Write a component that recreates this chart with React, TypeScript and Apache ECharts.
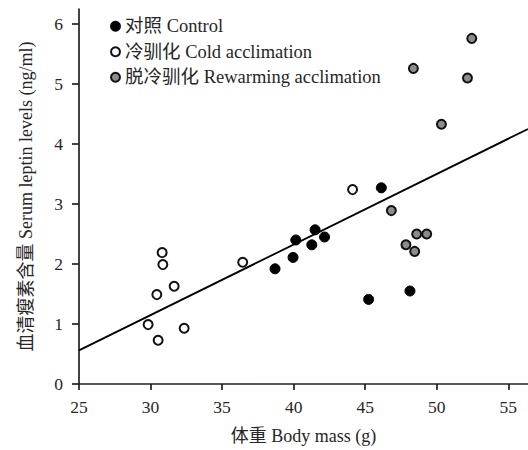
import React, { useEffect, useRef } from "react";
import * as echarts from "echarts";

const controlData: [number, number][] = [
  [38.7, 1.92], [39.96, 2.11], [40.15, 2.4], [41.27, 2.32], [41.5, 2.57],
  [42.16, 2.45], [46.13, 3.27], [45.24, 1.41], [48.13, 1.55],
];
const coldData: [number, number][] = [
  [30.81, 2.19], [30.86, 1.99], [31.65, 1.63], [30.44, 1.49], [36.44, 2.03],
  [44.12, 3.24], [29.83, 0.99], [30.53, 0.73], [32.35, 0.93],
];
const rewarmData: [number, number][] = [
  [52.45, 5.76], [48.37, 5.26], [52.15, 5.1], [50.33, 4.33], [46.83, 2.89],
  [48.6, 2.5], [49.3, 2.5], [47.85, 2.32], [48.46, 2.21],
];
const regressionLine: [number, number][] = [[25, 0.56], [56.38, 4.25]];
const xTicks = [25, 30, 35, 40, 45, 50, 55];
const yTicks = [0, 1, 2, 3, 4, 5, 6];
const seriesNames = ["对照 Control", "冷驯化 Cold acclimation", "脱冷驯化 Rewarming acclimation"];

const FONT = "'Liberation Serif', 'Times New Roman', 'Noto Sans CJK SC', serif";
const TXT = "#262626";

export default function App() {
  const ref = useRef<HTMLDivElement>(null);
  useEffect(() => {
    if (!ref.current) return;
    const chart = echarts.init(ref.current, undefined, { renderer: "svg" });
    const axisLine = { show: true, onZero: false, lineStyle: { color: "#222", width: 1.7 } };
    chart.setOption({
      animation: false,
      backgroundColor: "#fff",
      textStyle: { fontFamily: FONT },
      grid: { left: 79, right: 0, top: 9, bottom: 62, containLabel: false },
      legend: {
        orient: "vertical",
        left: 105,
        top: 12,
        itemWidth: 9,
        itemHeight: 9,
        itemGap: 7,
        icon: "circle",
        data: seriesNames,
        textStyle: { fontFamily: FONT, fontSize: 18.5, color: TXT },
      },
      xAxis: {
        type: "value",
        min: 25,
        max: 56.38,
        interval: 5,
        name: "体重 Body mass (g)",
        nameLocation: "middle",
        nameGap: 43,
        nameTextStyle: { fontFamily: FONT, fontSize: 18, color: TXT },
        axisLine,
        axisTick: { show: true, length: 6, inside: false, customValues: xTicks, lineStyle: { color: "#222", width: 1.7 } },
        axisLabel: { customValues: xTicks, fontFamily: FONT, fontSize: 17.5, color: TXT, margin: 14 },
        splitLine: { show: false },
      },
      yAxis: {
        type: "value",
        min: 0,
        max: 6.25,
        interval: 1,
        name: "血清瘦素含量 Serum leptin levels (ng/ml)",
        nameLocation: "middle",
        nameGap: 44,
        nameRotate: 90,
        nameTextStyle: { fontFamily: FONT, fontSize: 18, color: TXT },
        axisLine,
        axisTick: { show: true, length: 7, inside: false, customValues: yTicks, lineStyle: { color: "#222", width: 1.7 } },
        axisLabel: { customValues: yTicks, fontFamily: FONT, fontSize: 17.5, color: TXT, margin: 16 },
        splitLine: { show: false },
      },
      series: [
        {
          name: seriesNames[0],
          type: "scatter",
          data: controlData,
          symbol: "circle",
          symbolSize: 10,
          itemStyle: { color: "#000", borderColor: "#000", borderWidth: 1, opacity: 1 },
          z: 3,
        },
        {
          name: seriesNames[1],
          type: "scatter",
          data: coldData,
          symbol: "circle",
          symbolSize: 9,
          itemStyle: { color: "#fff", borderColor: "#111", borderWidth: 2, opacity: 1 },
          z: 3,
        },
        {
          name: seriesNames[2],
          type: "scatter",
          data: rewarmData,
          symbol: "circle",
          symbolSize: 9,
          itemStyle: { color: "#8c8c8c", borderColor: "#111", borderWidth: 2, opacity: 1 },
          z: 3,
        },
        {
          name: "regression",
          type: "line",
          data: regressionLine,
          symbol: "none",
          lineStyle: { color: "#000", width: 1.8 },
          z: 2,
        },
      ],
    });
    return () => chart.dispose();
  }, []);
  return (
    <div
      ref={ref}
      style={{ position: "fixed", left: 0, top: 0, width: 528, height: 450 }}
    />
  );
}
